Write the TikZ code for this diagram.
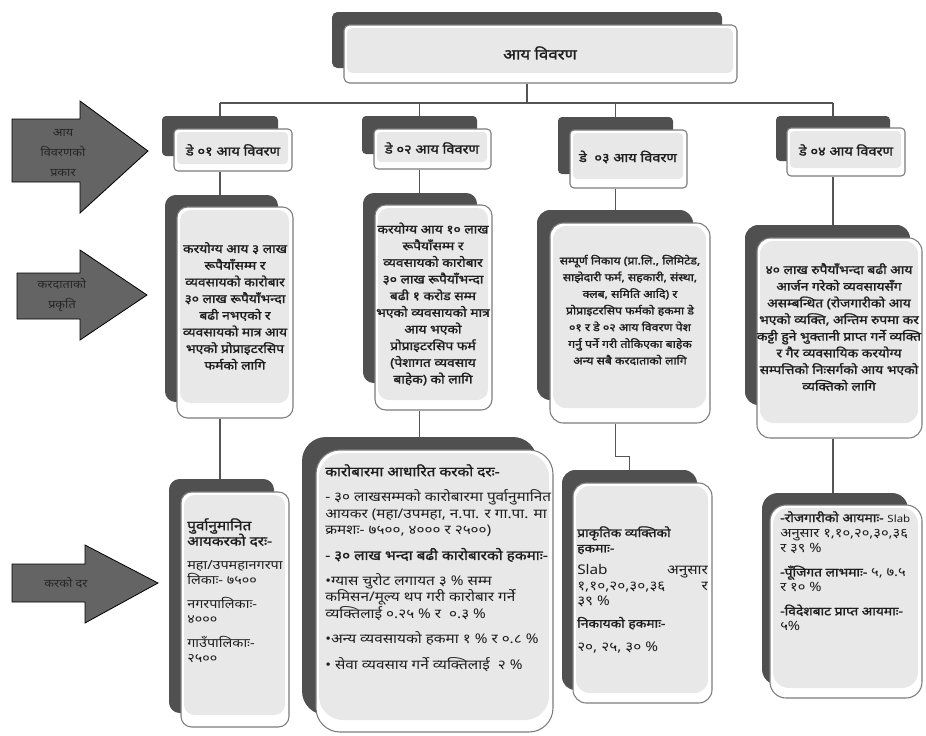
\documentclass[tikz,border=0pt]{standalone}
\usepackage{fontspec}
\newfontfamily\dev[Script=Devanagari, FakeStretch=1.12]{Noto Sans}
\newfontfamily\devw[Script=Devanagari, FakeStretch=1.15, BoldFont={Noto Sans}, BoldFeatures={FakeBold=1.6}]{Noto Sans}
\usetikzlibrary{fit,calc}
\definecolor{shadowc}{HTML}{505050}
\definecolor{panelc}{HTML}{E8E8E8}
\definecolor{edgec}{HTML}{7C7C7C}
\definecolor{arrowc}{HTML}{646464}
\definecolor{linec}{HTML}{555555}
\definecolor{inkc}{HTML}{1E1E1E}
\newcommand\panelbox[7]{%
  \node[lightbx, rounded corners=#7, fit={(#2,#3)(#4,#5)}] (#1) {};
  \fill[panelc, rounded corners=#7] (#2+3,#3+3) rectangle (#4-4,#5-#6);
}
\newcommand\darkpanel[6]{%
  \node[darkbx, rounded corners=#6, fit={(#2,#3)(#4,#5)}] (#1) {};
}
\newcommand\bsmall[1]{{\bfseries\fontsize{9}{11.6}\selectfont #1}}
\begin{document}
\begin{tikzpicture}[x=0.75pt,y=-0.75pt,
  darkbx/.style={fill=shadowc, draw=none, inner sep=0pt},
  lightbx/.style={fill=white, draw=edgec, line width=0.8pt, inner sep=0pt},
  conn/.style={draw=linec, line width=0.9pt},
  arrowshape/.style={fill=arrowc, draw=black, line width=0.6pt},
  arrowtext/.style={font={\dev\fontsize{8.5}{15}\selectfont\lineskiplimit=-20pt}, text=black!85, align=center, inner sep=0pt},
  headtext/.style={font={\devw\bfseries\fontsize{9.5}{12}\selectfont}, text=inkc, inner sep=0pt},
  midtext/.style={font={\devw\bfseries\fontsize{9}{12.5}\selectfont\lineskiplimit=-20pt}, text=inkc, align=center, inner sep=0pt},
  lowtext/.style={font={\devw\fontsize{10}{11.6}\selectfont\lineskiplimit=-20pt}, text=inkc, align=left, inner sep=0pt},
]
\useasboundingbox (0,0) rectangle (926,736);
\fill[white] (0,0) rectangle (926,736);

% ---------- left arrows ----------
\draw[arrowshape] (12,119) -- (80,119) -- (80,101) -- (148,151) -- (80,213) -- (80,182) -- (12,182) -- cycle;
\node[arrowtext] (a1) at (63,153) {आय\\विवरणको\\प्रकार};
\draw[arrowshape] (17,273) -- (80,273) -- (80,250) -- (147,295) -- (80,340) -- (80,319) -- (17,319) -- cycle;
\node[arrowtext] (a2) at (62,295) {करदाताको\\प्रकृति};
\draw[arrowshape] (12,564) -- (85,564) -- (85,545) -- (158,583) -- (85,623) -- (85,602) -- (12,602) -- cycle;
\node[arrowtext] (a3) at (66,583) {करको दर};

% ---------- title ----------
\darkpanel{td}{332}{12}{722}{68}{4pt}
\panelbox{tl}{344}{25}{737}{83}{10}{4pt}
\node[headtext, font={\devw\bfseries\fontsize{11}{14}\selectfont}] (title) at (540,53) {आय विवरण};

% ---------- headers ----------
\darkpanel{h1d}{162}{116}{278}{156}{3pt}
\panelbox{h1l}{174}{129}{292}{171}{7}{3pt}
\node[headtext] (h1t) at (233,150) {डे ०१ आय विवरण};
\darkpanel{h2d}{362}{116}{477}{154}{3pt}
\panelbox{h2l}{374}{129}{491}{169}{7}{3pt}
\node[headtext] (h2t) at (432,148) {डे ०२ आय विवरण};
\darkpanel{h3d}{558}{117}{673}{174}{3pt}
\panelbox{h3l}{570}{130}{687}{188}{9}{3pt}
\node[headtext] (h3t) at (628,157) {डे ~०३ आय विवरण};
\darkpanel{h4d}{776}{116}{890}{161}{3pt}
\panelbox{h4l}{787}{128}{905}{176}{8}{3pt}
\node[headtext] (h4t) at (846,150) {डे ०४ आय विवरण};

% ---------- middle boxes ----------
\darkpanel{m1d}{165}{195}{278}{402}{8pt}
\panelbox{m1l}{177}{207}{293}{418}{15}{8pt}
\node[midtext] (m1t) at (235,306) {करयोग्य आय ३ लाख\\रूपैयाँसम्म र\\व्यवसायको कारोबार\\३० लाख रूपैयाँभन्दा\\बढी नभएको र\\व्यवसायको मात्र आय\\भएको प्रोप्राइटरसिप\\फर्मको लागि};

\darkpanel{m2d}{363}{193}{477}{383}{8pt}
\panelbox{m2l}{375}{205}{492}{410}{10}{8pt}
\node[midtext] (m2t) at (433,304) {करयोग्य आय १० लाख\\रूपैयाँसम्म र\\व्यवसायको कारोबार\\३० लाख रूपैयाँभन्दा\\बढी १ करोड सम्म\\भएको व्यवसायको मात्र\\आय भएको\\प्रोप्राइटरसिप फर्म\\(पेशागत व्यवसाय\\बाहेक) को लागि};

\darkpanel{m3d}{537}{210}{693}{400}{10pt}
\panelbox{m3l}{550}{223}{710}{423}{15}{10pt}
\node[midtext, font={\devw\bfseries\fontsize{8}{12.5}\selectfont\lineskiplimit=-20pt}] (m3t) at (630,310) {सम्पूर्ण निकाय (प्रा.लि., लिमिटेड,\\साझेदारी फर्म, सहकारी, संस्था,\\क्लब, समिति आदि) र\\प्रोप्राइटरसिप फर्मको हकमा डे\\०१ र डे ०२ आय विवरण पेश\\गर्नु पर्ने गरी तोकिएका बाहेक\\अन्य सबै करदाताको लागि};

\darkpanel{m4d}{745}{225}{910}{405}{10pt}
\panelbox{m4l}{757}{238}{922}{438}{15}{10pt}
\node[midtext] (m4t) at (839,327) {४० लाख रुपैयाँभन्दा बढी आय\\आर्जन गरेको व्यवसायसँग\\असम्बन्धित (रोजगारीको आय\\भएको व्यक्ति, अन्तिम रुपमा कर\\कट्टी हुने भुक्तानी प्राप्त गर्ने व्यक्ति\\र गैर व्यवसायिक करयोग्य\\सम्पत्तिको निःसर्गको आय भएको\\व्यक्तिको लागि};

% ---------- bottom boxes ----------
\darkpanel{b1d}{169}{479}{274}{713}{8pt}
\panelbox{b1l}{181}{492}{289}{727}{12}{8pt}
\node[lowtext, anchor=north west, font={\devw\fontsize{9.4}{11.6}\selectfont\lineskiplimit=-20pt}] (b1t) at (187,518) {{\bfseries\fontsize{10}{11.6}\selectfont पुर्वानुमानित}\\{\bfseries\fontsize{10}{11.6}\selectfont आयकरको दरः-}\\[6pt]महा/उपमहानगरपा\\लिकाः- ७५००\\[6pt]नगरपालिकाः-\\४०००\\[6pt]गाउँपालिकाः-\\२५००};

\darkpanel{b2d}{302}{437}{537}{715}{18pt}
\panelbox{b2l}{316}{450}{553}{732}{12}{18pt}
\node[lowtext, anchor=north west, font={\devw\fontsize{10}{12.2}\selectfont\lineskiplimit=-20pt}] (b2t) at (325,464) {{\bfseries कारोबारमा आधारित करको दरः-}\\[7pt]- ३० लाखसम्मको कारोबारमा पुर्वानुमानित\\आयकर (महा/उपमहा, न.पा. र गा.पा. मा\\क्रमशः- ७५००, ४००० र २५००)\\[7pt]{\bfseries - ३० लाख भन्दा बढी कारोबारको हकमाः-}\\[7pt]•ग्यास चुरोट लगायत ३ \% सम्म\\कमिसन/मूल्य थप गरी कारोबार गर्ने\\व्यक्तिलाई ०.२५ \% र ~०.३ \%\\[7pt]•अन्य व्यवसायको हकमा १ \% र ०.८ \%\\[7pt]• सेवा व्यवसाय गर्ने व्यक्तिलाई ~२ \%};

\darkpanel{b3d}{562}{470}{697}{690}{10pt}
\panelbox{b3l}{573}{483}{712}{703}{10}{10pt}
\node[lowtext, anchor=north west] (b3t) at (577,526) {\bsmall{प्राकृतिक व्यक्तिको}\\\bsmall{हकमाः-}\\[5pt]\makebox[98pt]{Slab\hfill अनुसार}\\\makebox[98pt]{१,१०,२०,३०,३६\hfill र}\\३९ \%\\[5pt]\bsmall{निकायको हकमाः-}\\[6pt]२०, २५, ३० \%};

\darkpanel{b4d}{762}{493}{908}{685}{12pt}
\panelbox{b4l}{770}{505}{922}{698}{10}{12pt}
\node[lowtext, anchor=north west, font={\devw\fontsize{9.6}{11.6}\selectfont\lineskiplimit=-20pt}] (b4t) at (780,511) {\bsmall{-रोजगारीको आयमाः-} {\fontsize{7.5}{11.6}\selectfont Slab}\\अनुसार १,१०,२०,३०,३६\\र ३९ \%\\[6pt]\bsmall{-पूँजिगत लाभमाः-} ५, ७.५\\र १० \%\\[6pt]\bsmall{-विदेशबाट प्राप्त आयमाः-}\\५\%};

% ---------- connectors ----------
\coordinate (bus) at (0,103);
\draw[conn] (td.center |- tl.south) -- (td.center |- bus);
\draw[conn] (h1d.center |- bus) -- (h4d.center |- bus);
\draw[conn] (h1d.center |- bus) -- (h1d.north);
\draw[conn] (h2d.center |- bus) -- (h2d.north);
\draw[conn] (h3d.center |- bus) -- (h3d.north);
\draw[conn] (h4d.center |- bus) -- (h4d.north);
\draw[conn] (h1d.center |- h1l.south) -- (h1d.center |- m1d.north);
\draw[conn] (h2d.center |- h2l.south) -- (h2d.center |- m2d.north);
\draw[conn] (h3d.center |- h3l.south) -- (h3d.center |- m3d.north);
\draw[conn] (h4d.center |- h4l.south) -- (h4d.center |- m4d.north);
\draw[conn] (h1d.center |- m1l.south) -- (h1d.center |- b1d.north);
\draw[conn] (h2d.center |- m2l.south) -- (h2d.center |- b2d.north);
\draw[conn] (h3d.center |- m3l.south) |- ($(b3d.north)+(0,-13)$) -- (b3d.north);
\draw[conn] (h4d.center |- m4l.south) -- (h4d.center |- b4d.north);
\end{tikzpicture}
\end{document}
